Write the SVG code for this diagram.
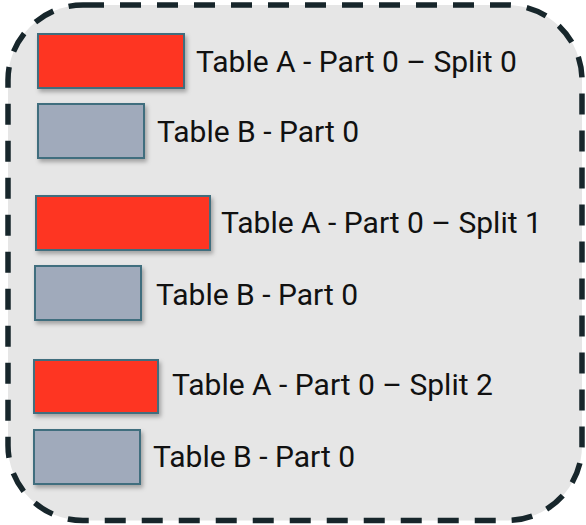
<svg xmlns="http://www.w3.org/2000/svg" width="586" height="525" viewBox="0 0 586 525">
<style>
.red{fill:#fe3620;stroke:#3f6e7e;stroke-width:2;filter:url(#sh)}
.gray{fill:#a0aabb;stroke:#3f6e7e;stroke-width:2;filter:url(#sh)}
text{font-family:Roboto,"Liberation Sans",sans-serif;font-size:30px;fill:#111}
</style>
<defs>
<filter id="sh" x="-10%" y="-20%" width="130%" height="150%">
<feDropShadow dx="2" dy="3" stdDeviation="2" flood-color="#000" flood-opacity="0.3"/>
</filter>
</defs>
<rect id="frame" x="8" y="5" width="574" height="515.5" rx="75" ry="75" fill="#e6e6e6" stroke="#17262b" stroke-width="5.5" stroke-dasharray="21 16"/>
<g id="a0"><rect class="red" x="38" y="34" width="146" height="54"/><text x="196" y="72">Table A - Part 0 – Split 0</text></g>
<g id="b0"><rect class="gray" x="38" y="104" width="106" height="54"/><text x="157" y="142">Table B - Part 0</text></g>
<g id="a1"><rect class="red" x="36" y="196" width="174" height="54"/><text x="221" y="233">Table A - Part 0 – Split 1</text></g>
<g id="b1"><rect class="gray" x="35" y="266" width="106" height="54"/><text x="156" y="305">Table B - Part 0</text></g>
<g id="a2"><rect class="red" x="34" y="360" width="124" height="53"/><text x="172" y="395">Table A - Part 0 – Split 2</text></g>
<g id="b2"><rect class="gray" x="34" y="430" width="106" height="54"/><text x="153" y="467">Table B - Part 0</text></g>
<g id="connectors"/>
</svg>
